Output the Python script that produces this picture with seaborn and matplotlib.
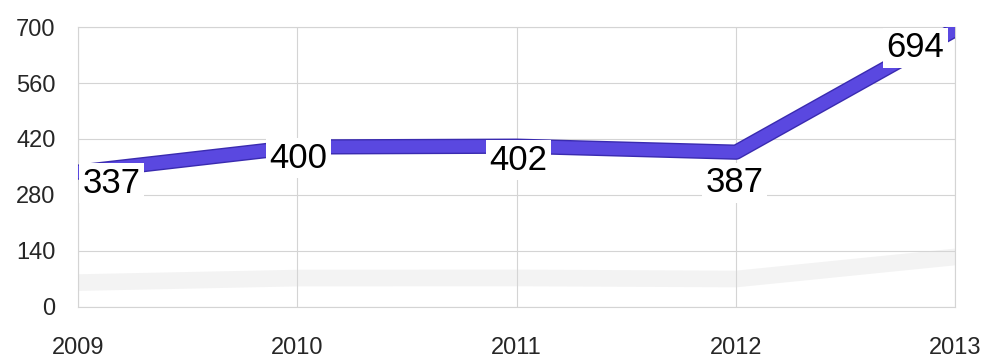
import pandas as pd
import seaborn as sns
import matplotlib.pyplot as plt
import matplotlib.patheffects as pe

years = [2009, 2010, 2011, 2012, 2013]
values = [337, 400, 402, 387, 694]
y_ticks = [0, 140, 280, 420, 560, 700]

df = pd.DataFrame({"year": years, "value": values})

sns.set_style("whitegrid", {"grid.color": "#d4d4d4", "axes.edgecolor": "#d4d4d4"})
plt.rcParams['font.family'] = ['Liberation Sans', 'DejaVu Sans']

fig = plt.figure(figsize=(9.86, 3.61), dpi=100)
ax = fig.add_axes([0.079, 0.150, 0.890, 0.775])

# faint shadow under the ribbon
shadow = df.assign(value=df.value * 0.18)
sns.lineplot(data=shadow, x="year", y="value", ax=ax, color="#d8d8d8",
             linewidth=12, alpha=0.3, solid_capstyle="round", zorder=1)

sns.lineplot(data=df, x="year", y="value", ax=ax, color="#5a48e0",
             linewidth=9, zorder=3,
             path_effects=[pe.Stroke(linewidth=11, foreground="#3a2bb0"), pe.Normal()])

offsets = [(24, -8), (1, -8), (1, -10), (-1, -22), (-29, -13)]
for (x, y), off in zip(zip(years, values), offsets):
    ax.annotate(str(y), (x, y), xytext=off, textcoords="offset points",
                ha="center", va="center", fontsize=25, color="black", zorder=5,
                bbox=dict(boxstyle="square,pad=0.1", fc="white", ec="none"))

ax.set_xlim(2009, 2013)
ax.set_ylim(0, 700)
ax.set_xticks(years)
ax.set_yticks(y_ticks)
ax.set_xlabel("")
ax.set_ylabel("")
ax.tick_params(axis="x", labelsize=17, pad=22, length=0)
ax.tick_params(axis="y", labelsize=17, pad=16, length=0)
for s in ax.spines.values():
    s.set_color("#d4d4d4")

fig.savefig("out.png", dpi=100)
